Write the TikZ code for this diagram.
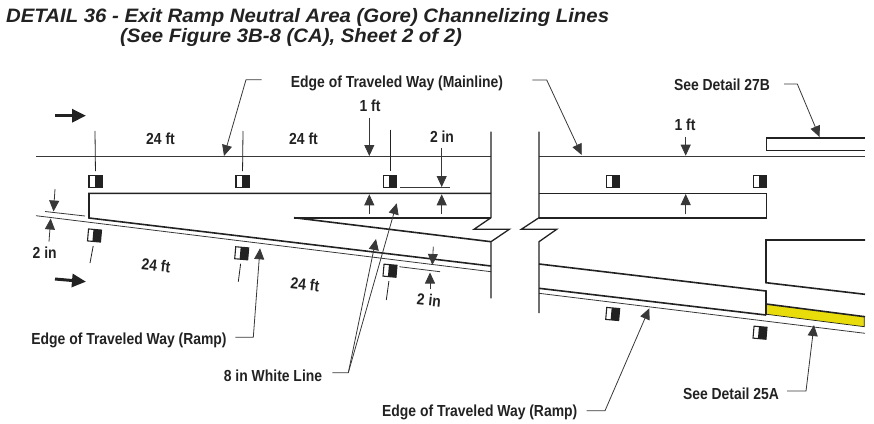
\documentclass[tikz,border=0pt]{standalone}
\usepackage{fontspec}
\usetikzlibrary{arrows.meta}
\setmainfont{Liberation Sans}
\newfontfamily\labfont[FakeStretch=0.87]{Liberation Sans}
\newfontfamily\titfont[FakeStretch=1.05]{Liberation Sans}
\definecolor{ink}{HTML}{222222}
\definecolor{gorey}{HTML}{E8DC0A}
\tikzset{
  thinl/.style={draw=ink!90,line width=0.8pt},
  heavy/.style={draw=ink,line width=1.6pt,line join=miter},
  tick/.style={draw=ink,line width=0.8pt,shorten >=4pt},
  lead/.style={draw=ink!90,line width=0.8pt,-{Triangle[length=11pt,width=10pt]}},
  flow/.style={draw=ink,line width=3pt,-{Triangle[length=14pt,width=13pt]}},
  lab/.style={text=ink,font=\labfont\bfseries\fontsize{16}{16}\selectfont,inner sep=0pt},
  titl/.style={text=ink,font=\titfont\bfseries\itshape\fontsize{19.4}{20}\selectfont,inner sep=0pt,anchor=base west},
  markerbox/.style={draw=ink,line width=1.1pt,fill=white,minimum width=13pt,minimum height=12pt,inner sep=0pt,
    path picture={\fill[ink] ([xshift=-1pt]path picture bounding box.north) rectangle (path picture bounding box.south east);}},
}
\begin{document}
\begin{tikzpicture}[x=1pt,y=-1pt]
\useasboundingbox (0,0) rectangle (874,423);
% title
\node[titl] (t1) at (6,22.7) {DETAIL 36 - Exit Ramp Neutral Area (Gore) Channelizing Lines};
\node[titl] (t2) at (120,42.7) {(See Figure 3B-8 (CA), Sheet 2 of 2)};
% yellow area
\fill[gorey] (766.7,304) -- (864.3,316.7) -- (864.3,326.7) -- (766.7,314.3) -- cycle;
% mainline
\draw[thinl] (36,156.3) -- (491,156.3);
\draw[thinl] (539,156.3) -- (865,156.3);
% ramp edge thin
\draw[thinl] (36,215.7) -- (491,271.7);
\draw[thinl] (539,293.3) -- (865,333.3);
% left gore
\draw[heavy] (491,193.3) -- (89,193.3) -- (89,218) -- (491,266);
\draw[heavy] (294,217.7) -- (491,217.7);
\draw[heavy] (294,217.7) -- (491,241.7);
% break lines
\draw[heavy,line width=1.3pt] (491,131.7) -- (491,217.7) -- (474,229.3) -- (509.3,229.3) -- (491,241.7) -- (491,298.3);
\draw[heavy,line width=1.3pt] (539,131.7) -- (539,217.7) -- (521.3,229.3) -- (556.7,229.3) -- (539,241.7) -- (539,313);
% right part
\draw[heavy] (539,193.3) -- (766.5,193.3) -- (766.5,218) -- (539,218);
\draw[heavy] (865,137.7) -- (766.5,137.7) -- (766.5,150.3) -- (865,150.3);
\draw[heavy] (539,264) -- (766,291) -- (766,315);
\draw[heavy] (539,288.3) -- (766,315);
\draw[heavy] (766,304) -- (865,316.7);
\draw[heavy] (865,240) -- (766,240) -- (766,282.7) -- (865,294.3);
\draw[draw=ink,line width=0.7pt] (766.7,314.3) -- (864.3,326.7) -- (864.3,316.7);
% markers
\node[markerbox] (m1) at (95.5,181.7) {};
\node[markerbox] (m2) at (242.5,181.7) {};
\node[markerbox] (m3) at (390,181.5) {};
\node[markerbox] (m4) at (613,181.7) {};
\node[markerbox] (m5) at (760.4,181.7) {};
\node[markerbox,rotate=-5] (m6) at (94.5,235.5) {};
\node[markerbox,rotate=-5] (m7) at (241.7,253.3) {};
\node[markerbox,rotate=-5] (m8) at (390,270.7) {};
\node[markerbox,rotate=-5] (m9) at (612.7,314) {};
\node[markerbox,rotate=-5] (m10) at (760,332.7) {};
% ticks
\coordinate (c1) at (95,131);
\coordinate (c2) at (243,131);
\coordinate (c3) at (390,129.5);
\coordinate (c6) at (90,263);
\coordinate (c7) at (238.3,281.7);
\coordinate (c8) at (386.3,300);
\draw[tick] (c1) -- (m1.north);
\draw[tick] (c2) -- (m2.north);
\draw[tick] (c3) -- (m3.north);
\draw[tick] (c6) -- (m6.south);
\draw[tick] (c7) -- (m7.south);
\draw[tick] (c8) -- (m8.south);
% flow arrows
\coordinate (f1) at (55,115.7); \coordinate (f2) at (86,115.7);
\coordinate (f3) at (55,279); \coordinate (f4) at (86,281.7);
\draw[flow] (f1) -- (f2);
\draw[flow] (f3) -- (f4);
% labels
\node[lab,anchor=base] (a1) at (160.5,144) {24 ft};
\node[lab,anchor=base] (a2) at (303.5,144) {24 ft};
\node[lab,anchor=base] (a3) at (370,111.7) {1 ft};
\node[lab,anchor=base] (a4) at (442,142.3) {2 in};
\node[lab,anchor=base] (a5) at (685,130) {1 ft};
\node[lab,anchor=base] (a6) at (44.7,258.3) {2 in};
\node[lab,rotate=-6] (a7) at (156,265.7) {24 ft};
\node[lab,rotate=-6] (a8) at (305,284.3) {24 ft};
\node[lab,rotate=-6] (a9) at (429,300) {2 in};
\node[lab,anchor=base] (main) at (397,87.5) {Edge of Traveled Way (Mainline)};
\node[lab,anchor=base] (d27) at (722,90.7) {See Detail 27B};
\node[lab,anchor=base] (r1) at (129,344) {Edge of Traveled Way (Ramp)};
\node[lab,anchor=base] (wl) at (273,381) {8 in White Line};
\node[lab,anchor=base] (r2) at (479.7,416.7) {Edge of Traveled Way (Ramp)};
\node[lab,anchor=base] (d25) at (731,399.3) {See Detail 25A};
% dimension ticks
\draw[thinl] (45,211.5) -- (85,216);
\draw[thinl] (400,187.3) -- (450,187.3);
\draw[thinl] (399.3,266.7) -- (440,271.7);
% dimension arrows
\draw[lead] (55,189) -- (53.5,211.5);
\draw[lead] (49,241.6) -- (50.7,218.5);
\draw[lead] (369.3,117.7) -- (369.3,156);
\draw[lead] (369.3,214) -- (369.3,194.3);
\draw[lead] (441.7,147.7) -- (441.7,187);
\draw[lead] (441.7,214) -- (441.7,194.3);
\draw[lead] (685.7,136.7) -- (685.7,155.7);
\draw[lead] (685.7,214.3) -- (685.7,194);
\draw[lead] (433.3,246.7) -- (432.3,265);
\draw[lead] (430,289.3) -- (430,272.5);
% leader arrows
\coordinate (k1) at (546.7,80);
\coordinate (k2) at (246,79.7);
\coordinate (k3) at (797.3,84);
\coordinate (k4) at (253.3,337.3);
\coordinate (k5) at (348.3,372.7);
\coordinate (k6) at (605,410.7);
\coordinate (k7) at (806,391);
\draw[lead] (main.east|-k1) ++(29,0) -- (k1) -- (581.7,155);
\draw[lead] (main.west|-k2) ++(-29,0) -- (k2) -- (224,156);
\draw[lead] (d27.east|-k3) ++(14,0) -- (k3) -- (819.5,137);
\draw[lead] (r1.east|-k4) ++(8.5,0) -- (k4) -- (260,248.3);
\draw[lead] (wl.east|-k5) ++(10,0) -- (k5) -- (396.7,203.3);
\draw[lead] (k5) -- (376,239);
\draw[lead] (r2.east|-k6) ++(9,0) -- (k6) -- (649.3,308.3);
\draw[lead] (d25.east|-k7) ++(8,0) -- (k7) -- (814,325);
\end{tikzpicture}
\end{document}
